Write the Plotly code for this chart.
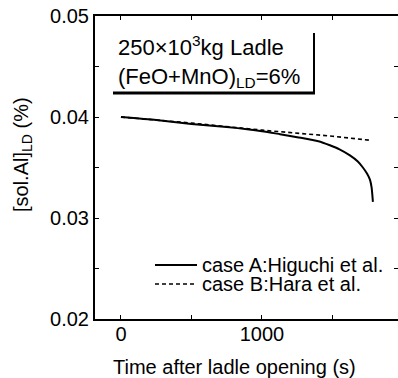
import plotly.graph_objects as go

# ---- data ----
time_a = [0, 250, 500, 750, 1000, 1128, 1250, 1400, 1482, 1550, 1624, 1680, 1716, 1745, 1766, 1778, 1787]
al_a = [0.0400, 0.0397, 0.0393, 0.0390, 0.0386, 0.0383, 0.0380, 0.0376, 0.0372, 0.0368,
        0.0362, 0.0356, 0.0350, 0.0344, 0.0338, 0.0330, 0.0316]
time_b = [0, 500, 1000, 1500, 1766]
al_b = [0.0400, 0.0394, 0.0387, 0.0381, 0.0377]

name_a = "case A:Higuchi et al."
name_b = "case B:Hara et al."

x_tickvals = [0, 500, 1000, 1500]
x_ticktext = ["0", "", "1000", ""]
y_tickvals = [0.02, 0.025, 0.03, 0.035, 0.04, 0.045, 0.05]
y_ticktext = ["0.02", "", "0.03", "", "0.04", "", "0.05"]

W, H = 398, 378
L, R, T, B = 95, 0, 16, 59
PW, PH = W - L - R, H - T - B
FONT = "Liberation Sans, Arial, Helvetica, sans-serif"


def px(x):
    return (x - L) / PW


def py(y):
    return (H - B - y) / PH


DASH = "4px,3px"

fig = go.Figure()
fig.add_trace(go.Scatter(x=time_a, y=al_a, mode="lines", name=name_a,
                         line=dict(color="black", width=2, shape="spline", smoothing=0.6),
                         showlegend=False))
fig.add_trace(go.Scatter(x=time_b, y=al_b, mode="lines", name=name_b,
                         line=dict(color="black", width=1.6, dash=DASH),
                         showlegend=False))
# empty trace to carry the right-hand tick axis
fig.add_trace(go.Scatter(x=[], y=[], yaxis="y2", showlegend=False, hoverinfo="skip"))

fig.update_layout(
    width=W, height=H,
    margin=dict(l=L, r=R, t=T, b=B),
    paper_bgcolor="white", plot_bgcolor="white",
    font=dict(family=FONT, size=20, color="black"),
    showlegend=False,
    xaxis=dict(range=[-184, 1965], tickvals=x_tickvals, ticktext=x_ticktext,
               ticks="inside", ticklen=4, tickwidth=1, tickcolor="black",
               showline=True, linewidth=2, linecolor="black", mirror="ticks",
               showgrid=False, zeroline=False, ticklabelstandoff=-4,
               tickfont=dict(size=20, family=FONT)),
    yaxis=dict(range=[0.02, 0.05], tickvals=y_tickvals, ticktext=y_ticktext,
               ticks="inside", ticklen=4, tickwidth=1, tickcolor="black",
               showline=True, linewidth=2, linecolor="black",
               showgrid=False, zeroline=False,
               tickfont=dict(size=20, family=FONT)),
    yaxis2=dict(range=[0.02, 0.05], overlaying="y", side="right",
                tickvals=y_tickvals, showticklabels=False,
                ticks="inside", ticklen=4, tickwidth=1, tickcolor="black",
                showline=False, showgrid=False, zeroline=False),
)

annotations = [
    # axis titles
    dict(text="Time after ladle opening (s)", xref="paper", yref="paper",
         x=px(234), y=py(367), showarrow=False, xanchor="center", yanchor="middle",
         font=dict(size=20)),
    dict(text="[sol.Al]<sub>LD</sub> (%)", xref="paper", yref="paper",
         x=px(22), y=py(155), showarrow=False, xanchor="center", yanchor="middle",
         textangle=-90, font=dict(size=20)),
    # condition box text
    dict(text="250\u00d710<sup>3</sup>kg Ladle<br>(FeO+MnO)<sub>LD</sub>=6%",
         xref="paper", yref="paper", x=px(116), y=py(61), showarrow=False,
         xanchor="left", yanchor="middle", align="left", font=dict(size=22)),
    # manual legend text
    dict(text=name_a, xref="paper", yref="paper", x=px(200), y=py(265),
         showarrow=False, xanchor="left", yanchor="middle", font=dict(size=20)),
    dict(text=name_b, xref="paper", yref="paper", x=px(200), y=py(284),
         showarrow=False, xanchor="left", yanchor="middle", font=dict(size=20)),
]
fig.update_layout(annotations=annotations)

shapes = [
    # shadow box lines
    dict(type="line", xref="paper", yref="paper", x0=px(113), x1=px(315), y0=py(93), y1=py(93),
         line=dict(color="black", width=3)),
    dict(type="line", xref="paper", yref="paper", x0=px(314), x1=px(314), y0=py(33), y1=py(93),
         line=dict(color="black", width=2)),
    # legend samples
    dict(type="line", xref="paper", yref="paper", x0=px(155), x1=px(197), y0=py(265), y1=py(265),
         line=dict(color="black", width=2)),
    dict(type="line", xref="paper", yref="paper", x0=px(155), x1=px(197), y0=py(284), y1=py(284),
         line=dict(color="black", width=1.6, dash=DASH)),
]
fig.update_layout(shapes=shapes)

fig.write_html("out.html")
